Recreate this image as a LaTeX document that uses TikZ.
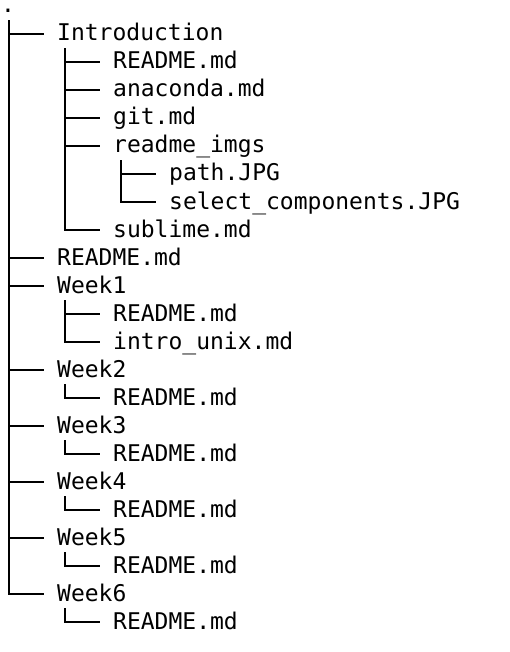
\documentclass[tikz,border=0pt]{standalone}
\usepackage{fontspec}
\setmonofont{DejaVu Sans Mono}
\usetikzlibrary{positioning, calc}
\tikzstyle{entry}=[anchor=west, inner sep=0pt, minimum height=28pt, text height=17pt, text depth=3pt, font=\ttfamily\fontsize{23}{28}\selectfont]
\tikzstyle{rootentry}=[entry, anchor=base west, minimum height=0pt, text height=4pt, text depth=7pt]
\tikzstyle{treepath}=[line width=1.5pt, black]
\tikzset{
    branch/.style={
        to path={($(\tikztostart.south west)+(8,0)$) |- ($(\tikztotarget.west)+(-13,0)$)}
    }
}

\begin{document}
\begin{tikzpicture}[x=1pt, y=-1pt]
    \useasboundingbox (0,0) rectangle (510,652);
    \node[rootentry] (root) at (1,13) {.};
    \node[entry] (intro) at (57,34) {Introduction};
    \node[entry] (introreadme) at (113,62) {README.md};
    \node[entry] (anaconda) at (113,90) {anaconda.md};
    \node[entry] (git) at (113,118) {git.md};
    \node[entry] (imgs) at (113,146) {readme\_imgs};
    \node[entry] (path) at (169,174) {path.JPG};
    \node[entry] (selcomp) at (169,202) {select\_components.JPG};
    \node[entry] (sublime) at (113,230) {sublime.md};
    \node[entry] (readme) at (57,258) {README.md};
    \node[entry] (week1) at (57,286) {Week1};
    \node[entry] (w1readme) at (113,314) {README.md};
    \node[entry] (introunix) at (113,342) {intro\_unix.md};
    \node[entry] (week2) at (57,370) {Week2};
    \node[entry] (w2readme) at (113,398) {README.md};
    \node[entry] (week3) at (57,426) {Week3};
    \node[entry] (w3readme) at (113,454) {README.md};
    \node[entry] (week4) at (57,482) {Week4};
    \node[entry] (w4readme) at (113,510) {README.md};
    \node[entry] (week5) at (57,538) {Week5};
    \node[entry] (w5readme) at (113,566) {README.md};
    \node[entry] (week6) at (57,594) {Week6};
    \node[entry] (w6readme) at (113,622) {README.md};

    \path[treepath]
        (root) edge[branch] (intro)
        (root) edge[branch] (readme)
        (root) edge[branch] (week1)
        (root) edge[branch] (week2)
        (root) edge[branch] (week3)
        (root) edge[branch] (week4)
        (root) edge[branch] (week5)
        (root) edge[branch] (week6)
        (intro) edge[branch] (introreadme)
        (intro) edge[branch] (anaconda)
        (intro) edge[branch] (git)
        (intro) edge[branch] (imgs)
        (intro) edge[branch] (sublime)
        (imgs) edge[branch] (path)
        (imgs) edge[branch] (selcomp)
        (week1) edge[branch] (w1readme)
        (week1) edge[branch] (introunix)
        (week2) edge[branch] (w2readme)
        (week3) edge[branch] (w3readme)
        (week4) edge[branch] (w4readme)
        (week5) edge[branch] (w5readme)
        (week6) edge[branch] (w6readme);
\end{tikzpicture}
\end{document}
